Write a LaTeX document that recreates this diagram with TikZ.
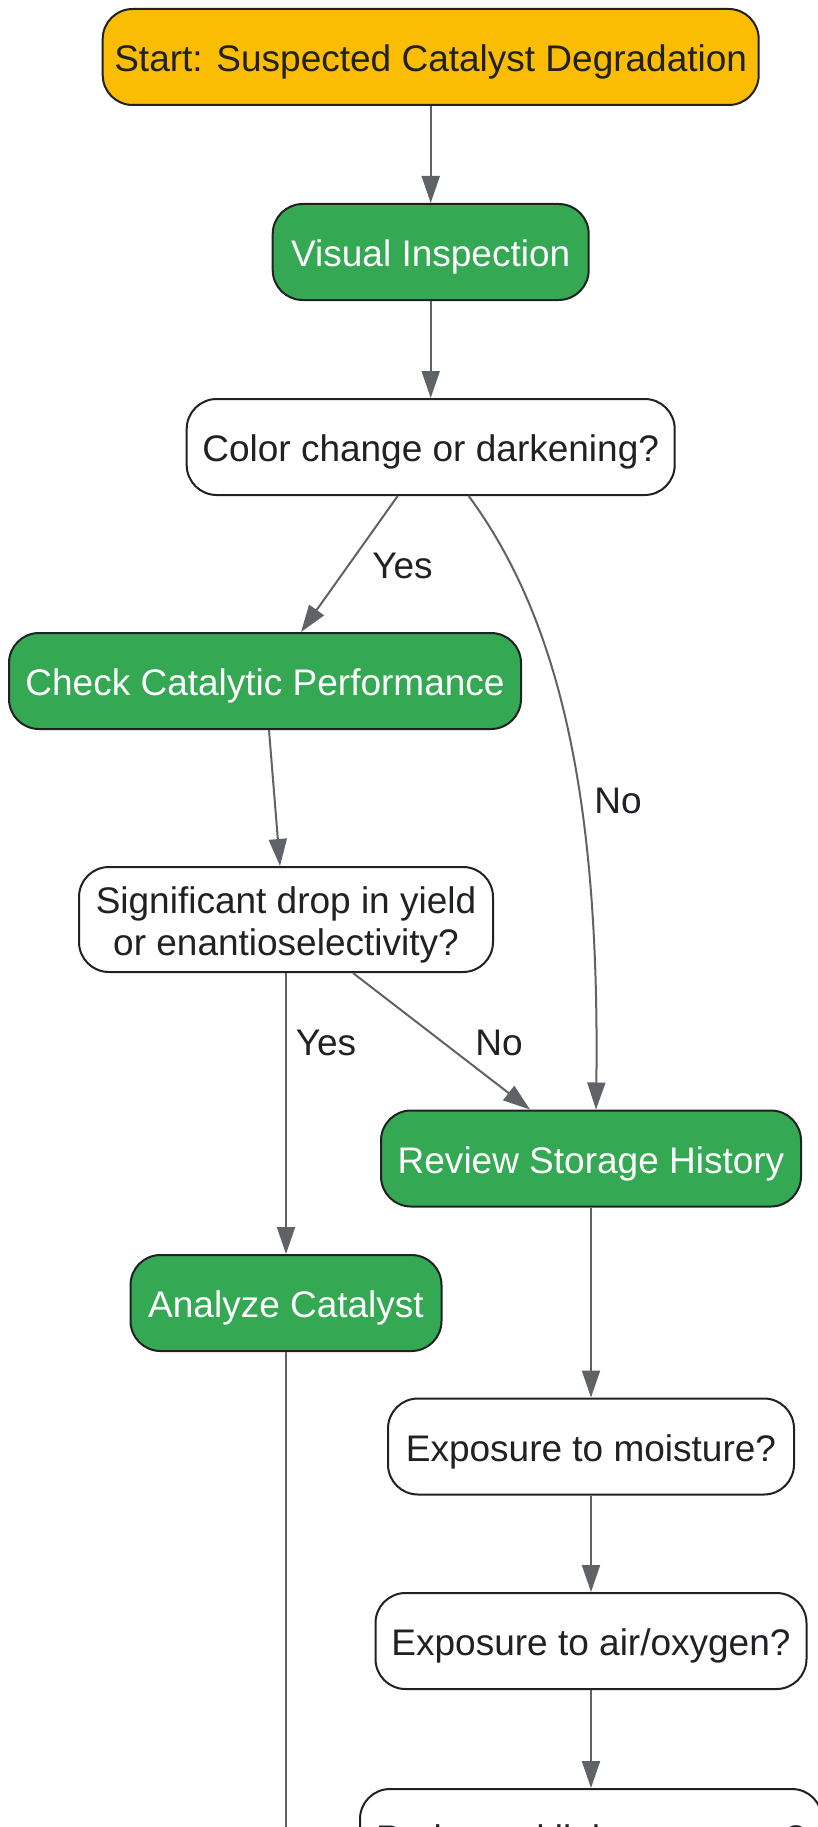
\documentclass[tikz,border=0pt]{standalone}
\usepackage{fontspec}
\setmainfont{Liberation Sans}
\usetikzlibrary{arrows.meta}
\definecolor{startc}{HTML}{FBBC04}
\definecolor{greenc}{HTML}{34A853}
\definecolor{edgec}{HTML}{5F6368}
\definecolor{txt}{HTML}{202124}
\begin{document}
\begin{tikzpicture}[x=1pt,y=-1pt,
 base/.style={draw=txt, line width=2pt, rounded corners=30pt, font=\fontsize{37}{42}\selectfont, inner sep=0pt, align=center, minimum height=96pt, text height=29pt, text depth=0pt},
 startbox/.style={base, fill=startc, text=txt},
 procbox/.style={base, fill=greenc, text=white},
 decbox/.style={base, fill=white, text=txt},
 edge/.style={draw=edgec, line width=2pt, -{Triangle[length=27pt,width=18pt]}},
 plainedge/.style={draw=edgec, line width=2pt},
 lbl/.style={font=\fontsize{37}{42}\selectfont, text=txt, inner sep=0pt}]
\useasboundingbox (0,0) rectangle (817,1827);
\fill[white] (0,0) rectangle (817,1827);
\node[startbox, minimum width=656pt] (start) at (430.7,57) {Start: Suspected Catalyst Degradation};
\node[procbox, minimum width=316pt] (visual) at (430.7,252) {Visual Inspection};
\node[decbox, minimum width=488pt] (color) at (430.7,447) {Color change or darkening?};
\node[procbox, minimum width=512pt] (check) at (265,681) {Check Catalytic Performance};
\node[decbox, minimum width=414pt, minimum height=105pt, text height=71pt] (sig) at (286,919.5) {Significant drop in yield\\or enantioselectivity?};
\node[procbox, minimum width=420pt] (review) at (591,1158.5) {Review Storage History};
\node[procbox, minimum width=311pt] (analyze) at (286,1303) {Analyze Catalyst};
\node[decbox, minimum width=406pt] (moist) at (591,1446.5) {Exposure to moisture?};
\node[decbox, minimum width=431pt] (air) at (591,1641) {Exposure to air/oxygen?};
\node[decbox, minimum width=462pt] (light) at (591,1837) {Prolonged light exposure?};
\coordinate (aend) at (286,1840);

\draw[edge] (start) -- (visual);
\draw[edge] (visual) -- (color);
\draw[edge] ([xshift=-33pt]color.south) -- ([xshift=36pt]check.north);
\draw[edge] ([xshift=38pt]color.south) .. controls (560,620) and (600,800) .. ([xshift=5pt]review.north);
\draw[edge] ([xshift=4pt]check.south) -- ([xshift=-6pt]sig.north);
\draw[edge] (sig) -- (analyze);
\draw[edge] ([xshift=67pt]sig.south) -- ([xshift=-61pt]review.north);
\draw[edge] (review) -- (moist);
\draw[edge] (moist) -- (air);
\draw[edge] (air) -- (light);
\draw[plainedge] (analyze) -- (aend);

\node[lbl] (l1) at (402.5,566) {Yes};
\node[lbl] (l2) at (618,801) {No};
\node[lbl] (l3) at (326,1043) {Yes};
\node[lbl] (l4) at (499,1043) {No};
\end{tikzpicture}
\end{document}
